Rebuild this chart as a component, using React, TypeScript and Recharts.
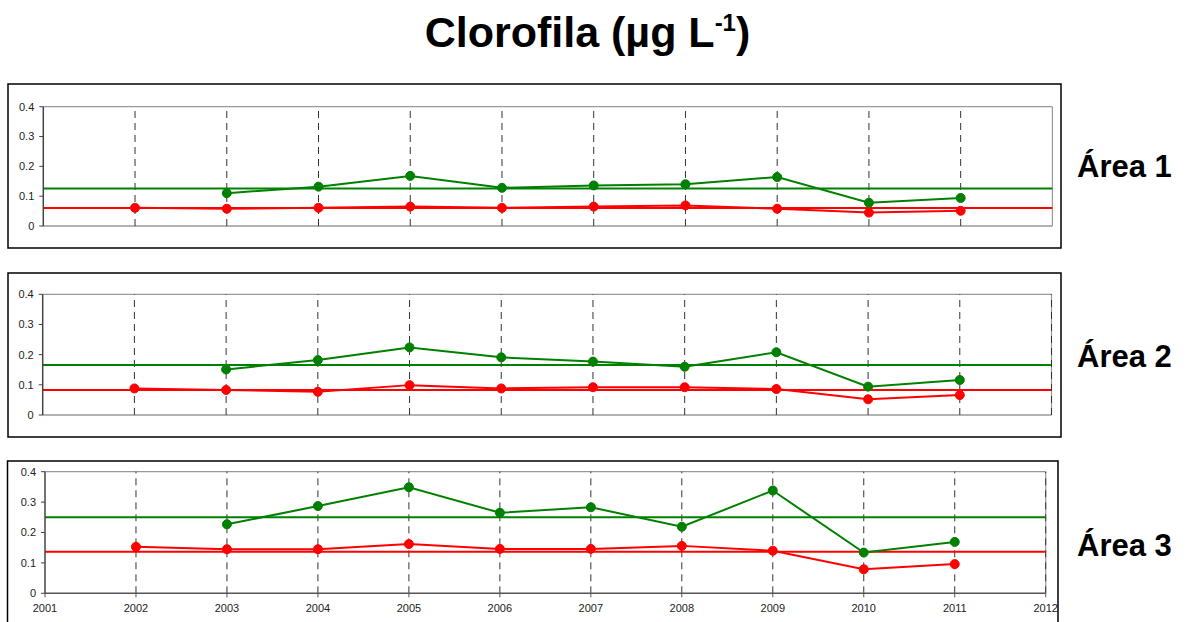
import React from 'react';
import { LineChart, Line, XAxis, YAxis, ReferenceLine } from 'recharts';

const years = [2002, 2003, 2004, 2005, 2006, 2007, 2008, 2009, 2010, 2011];
const xTicks = [2001, 2002, 2003, 2004, 2005, 2006, 2007, 2008, 2009, 2010, 2011, 2012];
const yTicks = [0, 0.1, 0.2, 0.3, 0.4];

const green1 = [null, 0.11, 0.132, 0.168, 0.128, 0.136, 0.14, 0.164, 0.078, 0.094];
const red1 = [0.061, 0.058, 0.061, 0.065, 0.061, 0.065, 0.069, 0.058, 0.045, 0.051];
const greenMean1 = 0.126;
const redMean1 = 0.06;

const green2 = [null, 0.151, 0.182, 0.224, 0.191, 0.177, 0.16, 0.208, 0.094, 0.116];
const red2 = [0.088, 0.083, 0.077, 0.099, 0.088, 0.092, 0.092, 0.086, 0.052, 0.066];
const greenMean2 = 0.166;
const redMean2 = 0.083;

const green3 = [null, 0.227, 0.287, 0.349, 0.265, 0.283, 0.219, 0.338, 0.134, 0.169];
const red3 = [0.153, 0.145, 0.145, 0.162, 0.146, 0.146, 0.156, 0.14, 0.079, 0.096];
const greenMean3 = 0.25;
const redMean3 = 0.137;

const areaLabels = ['Área 1', 'Área 2', 'Área 3'];

const GREEN = '#008000';
const RED = '#ff0000';
const FONT = '"Liberation Sans", Arial, sans-serif';

type PanelProps = {
  green: (number | null)[];
  red: number[];
  gMean: number;
  rMean: number;
  top: number;
  height: number;
  width: number;
  margin: { top: number; right: number; bottom: number; left: number };
  showX: boolean;
  dashedYears: number[];
};

function Panel(p: PanelProps) {
  const data = years.map((y, i) => ({ year: y, g: p.green[i], r: p.red[i] }));
  return (
    <div style={{ position: 'absolute', left: 0, top: p.top }}>
      <LineChart width={p.width} height={p.height} data={data} margin={p.margin}>
        <XAxis
          dataKey="year"
          type="number"
          domain={[2001, 2012]}
          ticks={xTicks}
          hide={!p.showX}
          height={p.showX ? 28.7 : 0}
          axisLine={{ stroke: '#555', strokeWidth: 1.5 }}
          tickLine={{ stroke: '#555' }}
          tickSize={4}
          tickMargin={7}
          tick={{ fontSize: 11, fill: '#222', fontFamily: FONT }}
          interval={0}
        />
        <YAxis
          type="number"
          domain={[0, 0.4]}
          ticks={yTicks}
          width={35}
          axisLine={{ stroke: '#444', strokeWidth: 1.5 }}
          tickLine={{ stroke: '#444' }}
          tickSize={4}
          tickMargin={5}
          tick={{ fontSize: 11, fill: '#222', fontFamily: FONT }}
          tickFormatter={(v: number) => (v === 0 ? '0' : String(v))}
          interval={0}
        />
        <ReferenceLine y={0.4} stroke="#999" strokeWidth={1.2} />
        <ReferenceLine x={2012} stroke="#999" strokeWidth={1.2} />
        {!p.showX && <ReferenceLine y={0} stroke="#999" strokeWidth={1.5} />}
        {p.dashedYears.map((y) => (
          <ReferenceLine key={y} x={y} stroke="#333" strokeWidth={1} strokeDasharray="7 5" />
        ))}
        <ReferenceLine y={p.gMean} stroke={GREEN} strokeWidth={2} />
        <ReferenceLine y={p.rMean} stroke={RED} strokeWidth={2} />
        <Line
          dataKey="r"
          stroke={RED}
          strokeWidth={2}
          dot={{ r: 4.5, fill: RED, stroke: RED, strokeWidth: 1 }}
          isAnimationActive={false}
          connectNulls={false}
        />
        <Line
          dataKey="g"
          stroke={GREEN}
          strokeWidth={2}
          dot={{ r: 4.5, fill: GREEN, stroke: GREEN, strokeWidth: 1 }}
          isAnimationActive={false}
          connectNulls={false}
        />
      </LineChart>
    </div>
  );
}

export default function App() {
  const gridYears = years;
  const gridYearsEnd = [...years, 2012];
  return (
    <div style={{ position: 'absolute', left: 0, top: 0, width: 1187, height: 622, background: '#fff', overflow: 'hidden' }}>
      <Panel
        green={green1}
        red={red1}
        gMean={greenMean1}
        rMean={redMean1}
        top={84}
        height={164}
        width={1065}
        margin={{ top: 22.7, right: 12.6, bottom: 22, left: 8.3 }}
        showX={false}
        dashedYears={gridYears}
      />
      <Panel
        green={green2}
        red={red2}
        gMean={greenMean2}
        rMean={redMean2}
        top={273}
        height={164}
        width={1065}
        margin={{ top: 21.3, right: 13.5, bottom: 22, left: 7.7 }}
        showX={false}
        dashedYears={gridYearsEnd}
      />
      <Panel
        green={green3}
        red={red3}
        gMean={greenMean3}
        rMean={redMean3}
        top={461}
        height={161}
        width={1060}
        margin={{ top: 10.7, right: 14.3, bottom: 0, left: 10 }}
        showX={true}
        dashedYears={gridYearsEnd}
      />
      <svg width={1187} height={622} style={{ position: 'absolute', left: 0, top: 0, pointerEvents: 'none' }}>
        <rect x={8} y={84} width={1053} height={164} fill="none" stroke="#000" strokeWidth={1.5} />
        <rect x={8} y={273} width={1053} height={164} fill="none" stroke="#000" strokeWidth={1.5} />
        <rect x={7.5} y={461} width={1050.5} height={170} fill="none" stroke="#000" strokeWidth={1.5} />
        <text x={587.5} y={47} textAnchor="middle" fontFamily={FONT} fontWeight="bold" fontSize={43} fill="#000">
          Clorofila (µg L
          <tspan dy={-16} fontSize={24}>-1</tspan>
          <tspan dy={16}>)</tspan>
        </text>
        <text x={1077} y={177.3} fontFamily={FONT} fontWeight="bold" fontSize={31} fill="#000">{areaLabels[0]}</text>
        <text x={1077} y={366.7} fontFamily={FONT} fontWeight="bold" fontSize={31} fill="#000">{areaLabels[1]}</text>
        <text x={1077} y={555.7} fontFamily={FONT} fontWeight="bold" fontSize={31} fill="#000">{areaLabels[2]}</text>
      </svg>
    </div>
  );
}
